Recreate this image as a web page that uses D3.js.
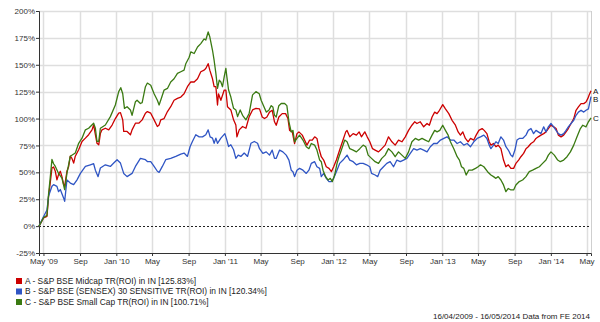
<!DOCTYPE html>
<html>
<head>
<meta charset="utf-8">
<script src="https://cdn.jsdelivr.net/npm/d3@7"></script>
<style>
  body { margin: 0; background: #fff; }
  #chart-area { width: 600px; height: 322px; }
  text { font-family: "Liberation Sans", Arial, sans-serif; }
</style>
</head>
<body>
<div id="chart-area"></div>
<script>
/* * * * * * * * * * * * * *
 *     Performance chart     *
 * * * * * * * * * * * * * */

// time is stored as decimal year, value as % growth
const seriesA = [
  [2009.288, 0], [2009.330, 7.7], [2009.361, 9], [2009.376, 28], [2009.391, 40], [2009.407, 54], [2009.422, 55],
  [2009.438, 51], [2009.453, 43], [2009.468, 48], [2009.484, 51], [2009.499, 46], [2009.515, 38.5], [2009.524, 37],
  [2009.545, 51], [2009.561, 55.5], [2009.576, 65], [2009.591, 63], [2009.607, 58.6], [2009.622, 65], [2009.653, 71],
  [2009.684, 78.7], [2009.715, 81.8], [2009.745, 85], [2009.776, 89.5], [2009.791, 94], [2009.807, 85], [2009.822, 77],
  [2009.838, 75.6], [2009.853, 86], [2009.868, 89.5], [2009.899, 91], [2009.930, 89.5], [2009.961, 94], [2009.991, 100],
  [2010.022, 105], [2010.038, 105.5], [2010.059, 98.8], [2010.068, 88], [2010.099, 88], [2010.130, 85], [2010.145, 89.5],
  [2010.176, 95.7], [2010.207, 95.7], [2010.238, 98.8], [2010.268, 105], [2010.286, 106.5], [2010.317, 105], [2010.348, 98.8],
  [2010.378, 92.6], [2010.394, 94], [2010.409, 98.8], [2010.440, 100], [2010.471, 106.5], [2010.501, 111], [2010.532, 117],
  [2010.563, 118.8], [2010.594, 120], [2010.624, 123], [2010.655, 129.6], [2010.686, 134], [2010.717, 134], [2010.748, 137],
  [2010.778, 143.5], [2010.809, 145], [2010.824, 146.6], [2010.846, 151], [2010.861, 145], [2010.886, 137], [2010.901, 129.6],
  [2010.917, 129.6], [2010.932, 112.6], [2010.941, 123], [2010.963, 117], [2010.994, 126.5], [2011.009, 126.5], [2011.024, 111],
  [2011.055, 108], [2011.080, 98.8], [2011.101, 94], [2011.111, 83], [2011.132, 89.5], [2011.163, 92.6], [2011.194, 91],
  [2011.224, 101.8], [2011.255, 108], [2011.286, 109.5], [2011.319, 109], [2011.344, 101.5], [2011.365, 100], [2011.387, 101.5],
  [2011.411, 106], [2011.436, 107.7], [2011.457, 97], [2011.473, 93.8], [2011.497, 101.5], [2011.528, 104.6], [2011.559, 104.6],
  [2011.581, 100], [2011.596, 89], [2011.621, 87.6], [2011.642, 76.8], [2011.664, 86], [2011.682, 87.6], [2011.713, 84.6],
  [2011.734, 80], [2011.756, 75.3], [2011.781, 80], [2011.805, 80], [2011.827, 83], [2011.848, 81.5], [2011.867, 72],
  [2011.888, 64.5], [2011.910, 61.4], [2011.934, 55.2], [2011.959, 53.7], [2011.981, 50.6], [2012.002, 55.2], [2012.027, 61.4],
  [2012.057, 70.7], [2012.088, 80], [2012.113, 87.6], [2012.125, 89], [2012.150, 83], [2012.181, 86], [2012.211, 84.6],
  [2012.236, 87.6], [2012.257, 83], [2012.288, 87.6], [2012.310, 83], [2012.334, 78.4], [2012.359, 72], [2012.383, 70.7],
  [2012.414, 69], [2012.444, 72], [2012.475, 75.3], [2012.506, 83], [2012.537, 78.4], [2012.567, 75.3], [2012.598, 80],
  [2012.629, 78.4], [2012.660, 83], [2012.690, 89], [2012.721, 93.8], [2012.746, 97], [2012.767, 95.4], [2012.798, 97],
  [2012.829, 92.3], [2012.860, 95.4], [2012.881, 93.8], [2012.906, 101.5], [2012.930, 106], [2012.952, 104.6], [2012.974, 107.7],
  [2013.004, 113], [2013.029, 109], [2013.060, 104.6], [2013.090, 98.4], [2013.121, 93.8], [2013.146, 87.6], [2013.167, 84.6],
  [2013.189, 87.6], [2013.213, 81.5], [2013.238, 78.4], [2013.260, 81.5], [2013.290, 80], [2013.312, 84.6], [2013.337, 89],
  [2013.367, 90.7], [2013.386, 89], [2013.411, 86], [2013.432, 78.4], [2013.448, 75.3], [2013.472, 76.8], [2013.494, 73.8],
  [2013.515, 75.3], [2013.540, 72], [2013.564, 61.4], [2013.586, 55.2], [2013.608, 57], [2013.632, 53.7], [2013.657, 53.7],
  [2013.678, 58.3], [2013.703, 61.4], [2013.724, 64.5], [2013.749, 67.6], [2013.771, 72], [2013.792, 73.8], [2013.817, 76.8],
  [2013.841, 78.4], [2013.863, 81.5], [2013.884, 83], [2013.909, 84.6], [2013.934, 86], [2013.955, 87.6], [2013.977, 90.7],
  [2014.001, 93.8], [2014.026, 92.3], [2014.048, 90.7], [2014.069, 84.6], [2014.094, 83], [2014.118, 84.6], [2014.140, 87.6],
  [2014.161, 90.7], [2014.186, 95.4], [2014.211, 100], [2014.232, 107.7], [2014.254, 110.8], [2014.278, 113.9], [2014.303, 113.9],
  [2014.324, 115.4], [2014.340, 118.5], [2014.352, 121.6], [2014.370, 125.83]
];

const seriesB = [
  [2009.288, 0], [2009.330, 9], [2009.361, 15], [2009.376, 28], [2009.407, 37], [2009.422, 38.5], [2009.453, 37],
  [2009.468, 32], [2009.484, 34], [2009.515, 26], [2009.524, 23], [2009.545, 43], [2009.576, 40], [2009.607, 38.5],
  [2009.638, 43], [2009.669, 49], [2009.715, 55.5], [2009.761, 57], [2009.791, 58], [2009.807, 52], [2009.832, 46],
  [2009.853, 54], [2009.899, 57], [2009.945, 55.5], [2009.976, 58.6], [2010.007, 61.7], [2010.038, 58.6], [2010.068, 49],
  [2010.099, 46], [2010.145, 49], [2010.176, 55.5], [2010.222, 63], [2010.268, 61.7], [2010.286, 60], [2010.317, 60],
  [2010.348, 55.5], [2010.378, 51], [2010.394, 50], [2010.424, 55.5], [2010.455, 61.7], [2010.501, 63], [2010.548, 64.8],
  [2010.594, 67], [2010.624, 67.9], [2010.655, 64.8], [2010.680, 74], [2010.701, 78.7], [2010.732, 85], [2010.763, 83],
  [2010.794, 83], [2010.824, 85], [2010.846, 89.5], [2010.864, 83], [2010.886, 81.8], [2010.901, 77], [2010.917, 81.8],
  [2010.932, 77], [2010.963, 81.8], [2011.000, 86], [2011.018, 80], [2011.034, 74], [2011.055, 75.6], [2011.080, 71],
  [2011.101, 63], [2011.123, 66], [2011.147, 64.8], [2011.178, 67.9], [2011.209, 64.8], [2011.240, 77], [2011.271, 78.7],
  [2011.301, 77], [2011.319, 72], [2011.350, 67.6], [2011.381, 69], [2011.411, 66], [2011.436, 70.7], [2011.457, 63],
  [2011.473, 63], [2011.504, 70.7], [2011.534, 69], [2011.565, 66], [2011.590, 61.4], [2011.611, 52], [2011.627, 50.6],
  [2011.642, 46], [2011.664, 52], [2011.688, 53.7], [2011.719, 52], [2011.750, 49], [2011.774, 52], [2011.796, 58.3],
  [2011.827, 59.9], [2011.848, 55.2], [2011.873, 53.7], [2011.888, 46], [2011.910, 49], [2011.934, 44.4], [2011.959, 41.4],
  [2011.981, 41.4], [2012.002, 44.4], [2012.027, 50.6], [2012.057, 58.3], [2012.088, 61.4], [2012.125, 66], [2012.150, 61.4],
  [2012.181, 59.9], [2012.211, 57], [2012.242, 58.3], [2012.273, 58.3], [2012.304, 57], [2012.334, 55.2], [2012.350, 49],
  [2012.383, 47.5], [2012.407, 46], [2012.429, 52], [2012.460, 55.2], [2012.490, 58.3], [2012.521, 59.9], [2012.552, 55.2],
  [2012.583, 61.4], [2012.614, 59.9], [2012.644, 61.4], [2012.675, 63], [2012.706, 67.6], [2012.737, 72], [2012.767, 70.7],
  [2012.798, 72], [2012.829, 70.7], [2012.860, 69], [2012.890, 73.8], [2012.921, 76.8], [2012.952, 76.8], [2012.983, 80],
  [2013.014, 81.5], [2013.044, 83], [2013.075, 80], [2013.106, 80], [2013.137, 76.8], [2013.167, 78.4], [2013.198, 75.3],
  [2013.229, 76.8], [2013.260, 73.8], [2013.290, 78.4], [2013.321, 81.5], [2013.352, 83], [2013.383, 84.6], [2013.411, 81.5],
  [2013.432, 75.3], [2013.448, 72], [2013.472, 75.3], [2013.494, 78.4], [2013.515, 76.8], [2013.540, 83], [2013.564, 80],
  [2013.586, 73.8], [2013.608, 70.7], [2013.632, 66], [2013.648, 64.5], [2013.669, 70.7], [2013.688, 80], [2013.709, 81.5],
  [2013.740, 81.5], [2013.771, 84.6], [2013.792, 89], [2013.817, 90.7], [2013.841, 86], [2013.863, 89], [2013.884, 87.6],
  [2013.909, 86], [2013.934, 92.3], [2013.955, 87.6], [2013.977, 92.3], [2014.001, 95.4], [2014.026, 92.3], [2014.048, 89],
  [2014.069, 86], [2014.094, 84.6], [2014.118, 86], [2014.140, 89], [2014.161, 92.3], [2014.186, 95.4], [2014.211, 98.4],
  [2014.232, 103], [2014.254, 106], [2014.278, 107.7], [2014.303, 106], [2014.324, 107.7], [2014.346, 109], [2014.370, 120.34]
];

const seriesC = [
  [2009.288, 0], [2009.330, 8], [2009.361, 10], [2009.376, 30], [2009.391, 45], [2009.407, 62], [2009.422, 58],
  [2009.438, 55.5], [2009.468, 49], [2009.499, 44.7], [2009.524, 34], [2009.545, 49], [2009.576, 65], [2009.622, 68],
  [2009.653, 77], [2009.684, 81.8], [2009.715, 89.5], [2009.745, 91], [2009.791, 95.7], [2009.807, 91], [2009.822, 78.7],
  [2009.838, 78.7], [2009.853, 91], [2009.899, 94], [2009.945, 101.8], [2009.991, 112.6], [2010.022, 125], [2010.041, 128.7],
  [2010.059, 123], [2010.075, 109.5], [2010.099, 111], [2010.130, 108], [2010.145, 103], [2010.176, 115.7], [2010.191, 117],
  [2010.222, 114], [2010.238, 114.8], [2010.268, 129.6], [2010.286, 133], [2010.317, 131], [2010.348, 123], [2010.378, 117],
  [2010.394, 112.6], [2010.415, 118.8], [2010.440, 126.5], [2010.471, 128], [2010.501, 134], [2010.532, 137], [2010.563, 142],
  [2010.594, 143.5], [2010.624, 145], [2010.640, 151], [2010.671, 157], [2010.686, 162], [2010.717, 160.5], [2010.748, 166.6],
  [2010.778, 169.7], [2010.809, 174], [2010.824, 173], [2010.846, 180.5], [2010.861, 176], [2010.886, 163.5], [2010.901, 154],
  [2010.917, 142], [2010.932, 128], [2010.948, 135.8], [2010.963, 134], [2010.978, 129.6], [2010.994, 139], [2011.009, 146.6],
  [2011.018, 139], [2011.034, 126.5], [2011.055, 120], [2011.080, 109.5], [2011.101, 108], [2011.117, 101.8], [2011.141, 108],
  [2011.163, 103], [2011.194, 98.8], [2011.224, 105], [2011.255, 122], [2011.286, 125], [2011.317, 123], [2011.334, 117],
  [2011.356, 112], [2011.381, 106], [2011.405, 107.7], [2011.427, 112], [2011.442, 110.8], [2011.457, 103], [2011.473, 101.5],
  [2011.497, 112], [2011.519, 114], [2011.550, 114], [2011.571, 112], [2011.590, 97], [2011.611, 87.6], [2011.627, 89],
  [2011.642, 78.4], [2011.664, 81.5], [2011.688, 84.6], [2011.719, 80], [2011.750, 73.8], [2011.774, 72], [2011.796, 76.8],
  [2011.827, 75.3], [2011.848, 70.7], [2011.873, 61.4], [2011.888, 59.9], [2011.904, 52], [2011.928, 46], [2011.950, 42.9],
  [2011.971, 44.4], [2011.990, 41.4], [2012.011, 47.5], [2012.033, 58.3], [2012.051, 64.5], [2012.073, 70.7], [2012.104, 80],
  [2012.125, 78.4], [2012.150, 72], [2012.181, 70.7], [2012.211, 69], [2012.242, 72], [2012.273, 75.3], [2012.297, 73.8],
  [2012.319, 66], [2012.350, 63], [2012.383, 59.9], [2012.414, 58.3], [2012.444, 63], [2012.475, 66], [2012.506, 72],
  [2012.537, 69], [2012.567, 64.5], [2012.598, 69], [2012.629, 66], [2012.660, 63], [2012.690, 69], [2012.721, 78.4],
  [2012.752, 81.5], [2012.783, 80], [2012.814, 81.5], [2012.844, 80], [2012.875, 78.4], [2012.906, 84.6], [2012.930, 89],
  [2012.952, 87.6], [2012.977, 89], [2013.004, 93.8], [2013.029, 89], [2013.054, 84.6], [2013.075, 78.4], [2013.106, 72],
  [2013.137, 64.5], [2013.158, 61.4], [2013.177, 55.2], [2013.198, 53.7], [2013.220, 47.5], [2013.244, 52], [2013.275, 52],
  [2013.306, 53.7], [2013.330, 55.2], [2013.352, 57], [2013.383, 55.2], [2013.417, 50.6], [2013.448, 47.5], [2013.472, 46],
  [2013.494, 44.4], [2013.515, 46], [2013.540, 42.9], [2013.564, 38.3], [2013.586, 32], [2013.608, 35], [2013.632, 33.6],
  [2013.657, 33.6], [2013.678, 38.3], [2013.709, 41.4], [2013.740, 42.9], [2013.771, 46], [2013.801, 50.6], [2013.832, 52],
  [2013.863, 53.7], [2013.894, 55.2], [2013.924, 58.3], [2013.955, 61.4], [2013.977, 66], [2014.001, 69], [2014.032, 66],
  [2014.063, 61.4], [2014.087, 59.9], [2014.118, 61.4], [2014.149, 64.5], [2014.180, 69], [2014.211, 75.3], [2014.241, 83],
  [2014.272, 90.7], [2014.294, 93.8], [2014.324, 92.3], [2014.346, 97], [2014.370, 100.71]
];

const seriesKeys = ["A", "B", "C"];
const seriesNames = [
  "A - S&P BSE Midcap TR(ROI) in IN [125.83%]",
  "B - S&P BSE (SENSEX) 30 SENSITIVE TR(ROI) in IN [120.34%]",
  "C - S&P BSE Small Cap TR(ROI) in IN [100.71%]"
];
const seriesColors = ["#cc0000", "#2f55c4", "#3a7a12"];
const yTicks = [-25, 0, 25, 50, 75, 100, 125, 150, 175, 200];
const footerText = "16/04/2009 - 16/05/2014 Data from FE 2014";

// decimal year -> Date
function toDate(t) {
  let y = Math.floor(t);
  let a = new Date(y, 0, 1), b = new Date(y + 1, 0, 1);
  return new Date(+a + (t - y) * (b - a));
}

let margin = { top: 11, right: 9, bottom: 69, left: 39 };
let width = 600 - margin.left - margin.right;
let height = 322 - margin.top - margin.bottom;

let svg = d3.select("#chart-area").append("svg")
  .attr("width", 600)
  .attr("height", 322);

let g = svg.append("g")
  .attr("transform", `translate(${margin.left}, ${margin.top})`);

let x = d3.scaleTime()
  .domain([new Date(2009, 3, 16), new Date(2014, 4, 16)])
  .range([0, width]);

let y = d3.scaleLinear()
  .domain([-25, 200])
  .range([height, 0]);

let xTicks = d3.timeMonth.every(4).range(new Date(2009, 4, 1), new Date(2014, 4, 2));
let fmtMonth = d3.timeFormat("%b");
let fmtYear = d3.timeFormat("%y");
let xFormat = (d, i) => (i === 0 || d.getMonth() === 0) ? `${fmtMonth(d)} '${fmtYear(d)}` : fmtMonth(d);

// grid
g.append("g")
  .selectAll("line.vgrid")
  .data(xTicks)
  .join("line")
  .attr("x1", d => Math.round(x(d)) + 0.5)
  .attr("x2", d => Math.round(x(d)) + 0.5)
  .attr("y1", 0)
  .attr("y2", height)
  .attr("stroke", "#dedede")
  .attr("stroke-width", 1.5);

g.append("g")
  .selectAll("line.hgrid")
  .data(yTicks.filter(d => d !== 0 && d !== -25))
  .join("line")
  .attr("x1", 0)
  .attr("x2", width)
  .attr("y1", d => Math.round(y(d)) + 0.5)
  .attr("y2", d => Math.round(y(d)) + 0.5)
  .attr("stroke", "#dedede")
  .attr("stroke-width", 1.5);

// right border
g.append("line")
  .attr("x1", width + 0.5).attr("x2", width + 0.5)
  .attr("y1", 0).attr("y2", height)
  .attr("stroke", "#cfcfcf");

// zero line
g.append("line")
  .attr("x1", 0).attr("x2", width)
  .attr("y1", Math.round(y(0)) + 0.5).attr("y2", Math.round(y(0)) + 0.5)
  .attr("stroke", "#222")
  .attr("stroke-dasharray", "2,2");

// axes
let xAxis = d3.axisBottom(x).tickValues(xTicks).tickFormat(xFormat).tickSize(3).tickPadding(2);
let yAxis = d3.axisLeft(y).tickValues(yTicks).tickFormat(d => d + "%").tickSize(3).tickPadding(1);

let gx = g.append("g")
  .attr("transform", `translate(0, ${height})`)
  .call(xAxis);
let gy = g.append("g").call(yAxis);

[gx, gy].forEach(a => {
  a.select(".domain").attr("stroke", "#333");
  a.selectAll(".tick line").attr("stroke", "#333");
  a.selectAll("text")
    .attr("fill", "#333")
    .style("font-size", "8px")
    .style("font-family", "'Liberation Sans', Arial, sans-serif");
});

// lines
let line = d3.line()
  .x(d => x(toDate(d[0])))
  .y(d => y(d[1]));

let allSeries = [seriesA, seriesB, seriesC];

g.selectAll(".series")
  .data(allSeries)
  .join("path")
  .attr("class", "series")
  .attr("fill", "none")
  .attr("stroke", (d, i) => seriesColors[i])
  .attr("stroke-width", 1.3)
  .attr("stroke-linejoin", "round")
  .attr("d", line);

// end labels, nudged apart so they don't overlap
let ends = allSeries.map((s, i) => ({ key: seriesKeys[i], y: y(s[s.length - 1][1]) }));
for (let i = 1; i < ends.length; i++) {
  if (ends[i].y - ends[i - 1].y < 8) ends[i].y = ends[i - 1].y + 8;
}
g.selectAll(".end-label")
  .data(ends)
  .join("text")
  .attr("class", "end-label")
  .attr("x", width + 2)
  .attr("y", d => d.y)
  .attr("dy", "0.35em")
  .attr("fill", "#111")
  .style("font-size", "8px")
  .text(d => d.key);

// legend
let legend = svg.append("g")
  .attr("transform", "translate(16, 281)")
  .selectAll("g")
  .data(seriesNames)
  .join("g")
  .attr("transform", (d, i) => `translate(0, ${i * 10.5})`);

legend.append("rect")
  .attr("x", 0)
  .attr("y", -3)
  .attr("width", 6)
  .attr("height", 6)
  .attr("fill", (d, i) => seriesColors[i]);

legend.append("text")
  .attr("x", 9)
  .attr("y", 0)
  .attr("dy", "0.35em")
  .attr("fill", "#222")
  .style("font-size", "8.4px")
  .text(d => d);

// footer
svg.append("text")
  .attr("x", 590)
  .attr("y", 319)
  .attr("text-anchor", "end")
  .attr("fill", "#222")
  .style("font-size", "8px")
  .text(footerText);
</script>
</body>
</html>
